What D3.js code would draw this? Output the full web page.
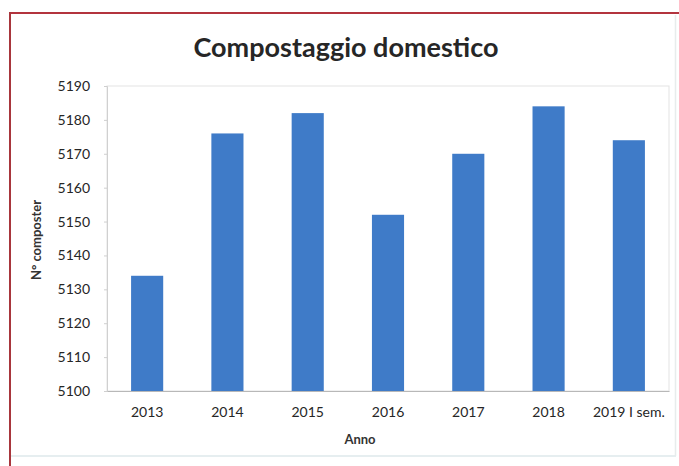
<!DOCTYPE html>
<html>
<head>
<meta charset="utf-8">
<script src="https://cdn.jsdelivr.net/npm/d3@7"></script>
<style>
  html, body { margin: 0; padding: 0; background: #ffffff; }
  svg { display: block; }
  text { font-family: Lato, "Open Sans", sans-serif; }
</style>
</head>
<body>
<svg id="chart" width="679" height="466"></svg>
<script>
// Numero di composter domestici per anno
const categories = ["2013", "2014", "2015", "2016", "2017", "2018", "2019 I sem."];
const composters = [5134, 5176, 5182, 5152, 5170, 5184, 5174];
const yTicks = [5100, 5110, 5120, 5130, 5140, 5150, 5160, 5170, 5180, 5190];

const svg = d3.select("#chart");

// cornice esterna
svg.append("rect").attr("x", 0).attr("y", 0).attr("width", 679).attr("height", 466).attr("fill", "#ffffff");
svg.append("line").attr("x1", 10).attr("x2", 679).attr("y1", 13).attr("y2", 13)
  .attr("stroke", "#b3343e").attr("stroke-width", 2);
svg.append("line").attr("x1", 10).attr("x2", 10).attr("y1", 12).attr("y2", 466)
  .attr("stroke", "#a8363c").attr("stroke-width", 2);
svg.append("line").attr("x1", 11).attr("x2", 676).attr("y1", 456).attr("y2", 456)
  .attr("stroke", "#e6eef0").attr("stroke-width", 2);
svg.append("line").attr("x1", 675.5).attr("x2", 675.5).attr("y1", 15).attr("y2", 456)
  .attr("stroke", "#e8ecec").attr("stroke-width", 1.5);

const plot = { left: 107, right: 669, top: 86, bottom: 391 };

const x = d3.scaleBand().domain(categories).range([plot.left, plot.right]).paddingInner(0.6).paddingOuter(0.3);
const y = d3.scaleLinear().domain([5100, 5190]).range([plot.bottom, plot.top]);

// bordo area del grafico
svg.append("rect").attr("x", plot.left).attr("y", plot.top)
  .attr("width", plot.right - plot.left).attr("height", plot.bottom - plot.top)
  .attr("fill", "none").attr("stroke", "#e3e3e3").attr("stroke-width", 1);

// barre
svg.append("g").selectAll("rect").data(categories).join("rect")
  .attr("x", d => x(d))
  .attr("width", x.bandwidth())
  .attr("y", (d, i) => y(composters[i]))
  .attr("height", (d, i) => y(5100) - y(composters[i]))
  .attr("fill", "#3f7bc8");

// asse y
const yAxis = svg.append("g").attr("transform", `translate(${plot.left},0)`)
  .call(d3.axisLeft(y).tickValues(yTicks).tickSize(3).tickPadding(14).tickFormat(d3.format("d")));
yAxis.select(".domain").attr("stroke", "#d0d0d0");
yAxis.selectAll(".tick line").attr("stroke", "#cfcfcf");
yAxis.selectAll(".tick text").attr("font-size", 14).attr("fill", "#262626")
  .attr("font-family", "Lato, sans-serif");

// asse x
const xAxis = svg.append("g").attr("transform", `translate(0,${plot.bottom})`)
  .call(d3.axisBottom(x).tickSize(0).tickPadding(16));
xAxis.select(".domain").attr("stroke", "#b8b8b8");
xAxis.selectAll(".tick text").attr("font-size", 14).attr("fill", "#262626")
  .attr("font-family", "Lato, sans-serif");

// titoli
svg.append("text").attr("x", 346).attr("y", 57).attr("text-anchor", "middle")
  .attr("font-size", 27).attr("font-weight", "bold").attr("fill", "#262626")
  .text("Compostaggio domestico");

svg.append("text").attr("x", 360).attr("y", 444).attr("text-anchor", "middle")
  .attr("font-size", 13).attr("font-weight", "bold").attr("fill", "#333333")
  .text("Anno");

svg.append("text").attr("transform", "translate(41,240) rotate(-90)").attr("text-anchor", "middle")
  .attr("font-size", 13).attr("font-weight", "bold").attr("fill", "#333333")
  .text("N° composter");
</script>
</body>
</html>
